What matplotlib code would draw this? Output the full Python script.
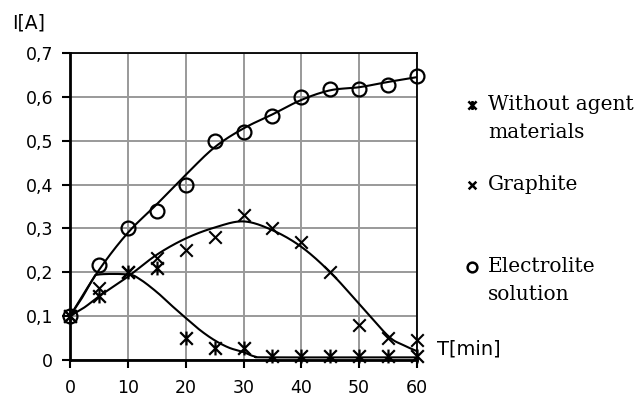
import numpy as np
import matplotlib
matplotlib.use("Agg")
import matplotlib.pyplot as plt
from matplotlib.path import Path
from matplotlib.lines import Line2D
from matplotlib.ticker import FuncFormatter

# ---- data ----
time_min = [0, 5, 10, 15, 20, 25, 30, 35, 40, 45, 50, 55, 60]
without_agent = [0.10, 0.145, 0.20, 0.21, 0.05, 0.027, 0.028, 0.01, 0.01, 0.01, 0.01, 0.01, 0.01]
graphite = [0.10, 0.165, 0.20, 0.232, 0.25, 0.28, 0.33, 0.30, 0.268, 0.20, 0.08, 0.05, 0.045]
electrolite = [0.10, 0.217, 0.30, 0.34, 0.40, 0.50, 0.52, 0.556, 0.60, 0.617, 0.617, 0.628, 0.648]

# trend curves (at knot times)
trend_wa_t = [0, 2, 4, 5, 10, 12, 15, 17.5, 20, 22.5, 25, 27.5, 30, 32, 35, 60]
trend_wa_v = [0.10, 0.14, 0.185, 0.195, 0.195, 0.185, 0.155, 0.125, 0.096, 0.068, 0.045, 0.028, 0.018, 0.008, 0.006, 0.006]
trend_gr_t = [0, 2.5, 5, 10, 15, 20, 25, 30, 35, 40, 45, 50, 55, 57.5, 60]
trend_gr_v = [0.10, 0.12, 0.145, 0.19, 0.24, 0.277, 0.302, 0.316, 0.296, 0.258, 0.20, 0.128, 0.055, 0.035, 0.02]
trend_el_t = [0, 5, 10, 15, 20, 25, 30, 35, 40, 45, 50, 55, 60]
trend_el_v = [0.10, 0.205, 0.29, 0.355, 0.422, 0.485, 0.528, 0.56, 0.593, 0.615, 0.622, 0.634, 0.645]

x_ticks = [0, 10, 20, 30, 40, 50, 60]
y_ticks = [0, 0.1, 0.2, 0.3, 0.4, 0.5, 0.6, 0.7]


def catmull(t, v, n=20):
    t = np.asarray(t, float); v = np.asarray(v, float)
    P = np.column_stack([t, v])
    P = np.vstack([P[0], P, P[-1]])
    out = []
    for i in range(1, len(P) - 2):
        p0, p1, p2, p3 = P[i - 1], P[i], P[i + 1], P[i + 2]
        s = np.linspace(0, 1, n, endpoint=False)[:, None]
        c = 0.5 * ((2 * p1) + (-p0 + p2) * s + (2 * p0 - 5 * p1 + 4 * p2 - p3) * s ** 2
                   + (-p0 + 3 * p1 - 3 * p2 + p3) * s ** 3)
        out.append(c)
    out.append(P[-2][None, :])
    c = np.vstack(out)
    return c[:, 0], c[:, 1]


# custom markers
star_path = Path([(-1, -1), (1, 1), (-1, 1), (1, -1), (0, -1.1), (0, 1.1)],
                 [Path.MOVETO, Path.LINETO, Path.MOVETO, Path.LINETO, Path.MOVETO, Path.LINETO])
x_path = Path([(-1, -1), (1, 1), (-1, 1), (1, -1)],
              [Path.MOVETO, Path.LINETO, Path.MOVETO, Path.LINETO])

SANS = "DejaVu Sans"
SERIF = "DejaVu Serif"

fig = plt.figure(figsize=(6.44, 4.0), dpi=100)
ax = fig.add_axes([70 / 644, 40 / 400, 347 / 644, 307 / 400])

ax.set_xlim(0, 60)
ax.set_ylim(0, 0.7)
ax.set_xticks(x_ticks)
ax.set_yticks(y_ticks)
ax.grid(True, color="#999999", linewidth=1.4)
ax.set_axisbelow(True)

fmt = FuncFormatter(lambda v, p: "0" if abs(v) < 1e-9 else ("%g" % round(v, 2)).replace(".", ","))
ax.yaxis.set_major_formatter(fmt)
ax.xaxis.set_major_formatter(FuncFormatter(lambda v, p: "%d" % v))

for s in ["top", "right"]:
    ax.spines[s].set_linewidth(1.3)
for s in ["left", "bottom"]:
    ax.spines[s].set_linewidth(2.0)
ax.tick_params(axis="both", direction="out", length=6, width=1.5, labelsize=12.5,
               colors="black")
ax.tick_params(axis="y", pad=6)
ax.tick_params(axis="x", pad=8)
for lab in ax.get_xticklabels() + ax.get_yticklabels():
    lab.set_fontfamily(SANS)

# trend lines
for tt, vv in [(trend_wa_t, trend_wa_v), (trend_gr_t, trend_gr_v), (trend_el_t, trend_el_v)]:
    cx, cy = catmull(tt, vv)
    ax.plot(cx, cy, color="black", linewidth=1.5, zorder=3)

# markers
ax.plot(time_min, without_agent, linestyle="none", marker=star_path, markersize=10,
        markeredgewidth=1.6, color="black", markerfacecolor="none", clip_on=False, zorder=4)
ax.plot(time_min, graphite, linestyle="none", marker=x_path, markersize=9,
        markeredgewidth=1.5, color="black", markerfacecolor="none", clip_on=False, zorder=4)
ax.plot(time_min, electrolite, linestyle="none", marker="o", markersize=10,
        markerfacecolor="none", markeredgewidth=1.6, color="black", clip_on=False, zorder=4)

# axis titles
fig.text(12 / 644, 1 - 23 / 400, "I[A]", fontsize=13.5, family=SANS,
         ha="left", va="center")
fig.text(437 / 644, 1 - 349 / 400, "T[min]", fontsize=14, family=SANS,
         ha="left", va="center")

# legend (manual)
leg_items = [
    (105, star_path, 6.5, "Without agent", "materials"),
    (185, x_path, 5.5, "Graphite", None),
    (267, "o", 7, "Electrolite", "solution"),
]
for ypx, mk, ms, l1, l2 in leg_items:
    fig.add_artist(Line2D([472 / 644], [1 - ypx / 400], transform=fig.transFigure,
                          marker=mk, markersize=ms, markeredgewidth=1.8, color="black",
                          markerfacecolor="none", linestyle="none"))
    fig.text(488 / 644, 1 - ypx / 400, l1, fontsize=14.5, family=SERIF, ha="left", va="center")
    if l2:
        fig.text(488 / 644, 1 - (ypx + 28) / 400, l2, fontsize=14.5, family=SERIF,
                 ha="left", va="center")

fig.savefig("out.png", dpi=100)
